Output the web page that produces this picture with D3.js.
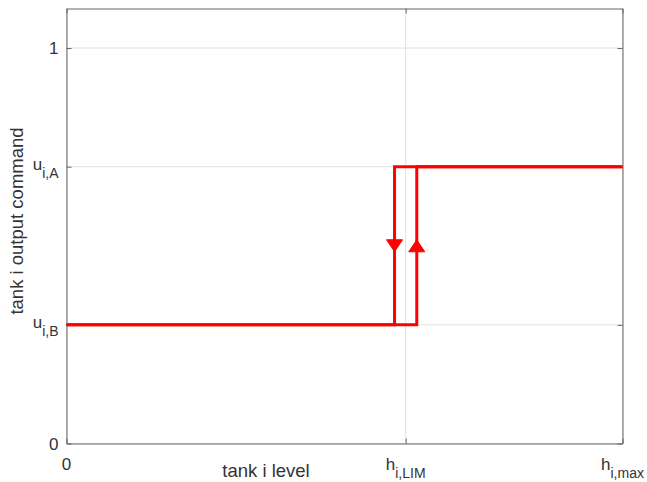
<!DOCTYPE html>
<html>
<head>
<meta charset="utf-8">
<script src="https://cdn.jsdelivr.net/npm/d3@7"></script>
<style>
  body { margin: 0; background: #fff; }
  text { font-family: "Liberation Sans", Arial, Helvetica, sans-serif; fill: #333; }
</style>
</head>
<body>
<script>
// Hysteresis switch: tank output command vs tank level

const w = 647;
const h = 482;

const margin = { top: 8.5, right: 24.5, bottom: 38.5, left: 66.5 };
const width = w - margin.left - margin.right;
const height = h - margin.top - margin.bottom;

// ticks (value, main text, subscript)
const xTickValues = [0, 0.61, 1];
const xTickMain = ["0", "h", "h"];
const xTickSub = ["", "i,LIM", "i,max"];

const yTickValues = [0, 0.3, 0.7, 1];
const yTickMain = ["0", "u", "u", "1"];
const yTickSub = ["", "i,B", "i,A", ""];

// rising branch (level going up) and falling branch (level going down)
const risingX = [0, 0.63, 0.63, 1];
const risingY = [0.3, 0.3, 0.7, 0.7];
const fallingX = [1, 0.59, 0.59, 0];
const fallingY = [0.7, 0.7, 0.3, 0.3];

// direction arrows on the vertical switching lines
const arrowX = [0.59, 0.63];
const arrowY = [0.5, 0.5];
const arrowDir = ["down", "up"];

const svg = d3.select("body")
  .append("svg")
  .attr("width", w)
  .attr("height", h);

const g = svg.append("g")
  .attr("transform", `translate(${margin.left},${margin.top})`);

const x_scale = d3.scaleLinear()
  .domain([0, 1])
  .range([0, width]);

const y_scale = d3.scaleLinear()
  .domain([0, 1.1])
  .range([height, 0]);

// grid
g.selectAll(".xgrid")
  .data(xTickValues)
  .enter()
  .append("line")
  .attr("x1", d => x_scale(d))
  .attr("x2", d => x_scale(d))
  .attr("y1", 0)
  .attr("y2", height)
  .attr("stroke", "#e2e2e2")
  .attr("stroke-width", 1);

g.selectAll(".ygrid")
  .data(yTickValues)
  .enter()
  .append("line")
  .attr("x1", 0)
  .attr("x2", width)
  .attr("y1", d => y_scale(d))
  .attr("y2", d => y_scale(d))
  .attr("stroke", "#e2e2e2")
  .attr("stroke-width", 1);

// axes (inward ticks, mirrored like a boxed plot)
const axisColor = "#666";
const tickLen = 5;

g.append("g")
  .attr("transform", `translate(0,${height})`)
  .call(d3.axisBottom(x_scale).tickValues(xTickValues).tickSizeInner(-tickLen).tickSizeOuter(0).tickFormat(""));
g.append("g")
  .call(d3.axisTop(x_scale).tickValues(xTickValues).tickSizeInner(-tickLen).tickSizeOuter(0).tickFormat(""));
g.append("g")
  .call(d3.axisLeft(y_scale).tickValues(yTickValues).tickSizeInner(-tickLen).tickSizeOuter(0).tickFormat(""));
g.append("g")
  .attr("transform", `translate(${width},0)`)
  .call(d3.axisRight(y_scale).tickValues(yTickValues).tickSizeInner(-tickLen).tickSizeOuter(0).tickFormat(""));

g.selectAll(".domain, .tick line")
  .attr("stroke", axisColor);

// tick labels with subscripts
const xLabels = g.selectAll(".xlab")
  .data(xTickValues)
  .enter()
  .append("text")
  .attr("x", d => x_scale(d))
  .attr("y", height + 26)
  .attr("text-anchor", "middle")
  .attr("font-size", "17px");
xLabels.append("tspan").text((d, i) => xTickMain[i]);
xLabels.append("tspan")
  .attr("font-size", "14px")
  .attr("dy", 8)
  .text((d, i) => xTickSub[i]);

const yLabels = g.selectAll(".ylab")
  .data(yTickValues)
  .enter()
  .append("text")
  .attr("x", -8)
  .attr("y", (d, i) => y_scale(d) + (yTickSub[i] ? 3.5 : 6))
  .attr("text-anchor", "end")
  .attr("font-size", "17px");
yLabels.append("tspan").text((d, i) => yTickMain[i]);
yLabels.append("tspan")
  .attr("font-size", "14px")
  .attr("dy", 8)
  .text((d, i) => yTickSub[i]);

// hysteresis lines
const line = d3.line()
  .x(d => x_scale(d[0]))
  .y(d => y_scale(d[1]))
  .curve(d3.curveLinear);

const branches = [
  d3.zip(fallingX, fallingY),
  d3.zip(risingX, risingY)
];

g.selectAll(".branch")
  .data(branches)
  .enter()
  .append("path")
  .attr("d", line)
  .attr("fill", "none")
  .attr("stroke", "#ff0000")
  .attr("stroke-width", 3)
  .attr("stroke-linejoin", "miter");

// arrow markers
const triangle = {
  draw(ctx, size) {
    const hw = Math.sqrt(size) / 2;
    const hh = hw * 0.75;
    ctx.moveTo(-hw, -hh);
    ctx.lineTo(hw, -hh);
    ctx.lineTo(0, hh);
    ctx.closePath();
  }
};

g.selectAll(".arrow")
  .data(arrowX)
  .enter()
  .append("path")
  .attr("d", d3.symbol(triangle, 256))
  .attr("transform", (d, i) =>
    `translate(${x_scale(d)},${y_scale(arrowY[i])}) rotate(${arrowDir[i] === "up" ? 180 : 0})`)
  .attr("fill", "#ff0000")
  .attr("stroke", "#ff0000")
  .attr("stroke-width", 1);

// axis titles
g.append("text")
  .attr("x", 266 - margin.left)
  .attr("y", height + 33)
  .attr("text-anchor", "middle")
  .attr("font-size", "18.5px")
  .text("tank i level");

g.append("text")
  .attr("transform", "rotate(-90)")
  .attr("x", -(221 - margin.top))
  .attr("y", 23 - margin.left)
  .attr("text-anchor", "middle")
  .attr("font-size", "18.5px")
  .text("tank i output command");
</script>
</body>
</html>
